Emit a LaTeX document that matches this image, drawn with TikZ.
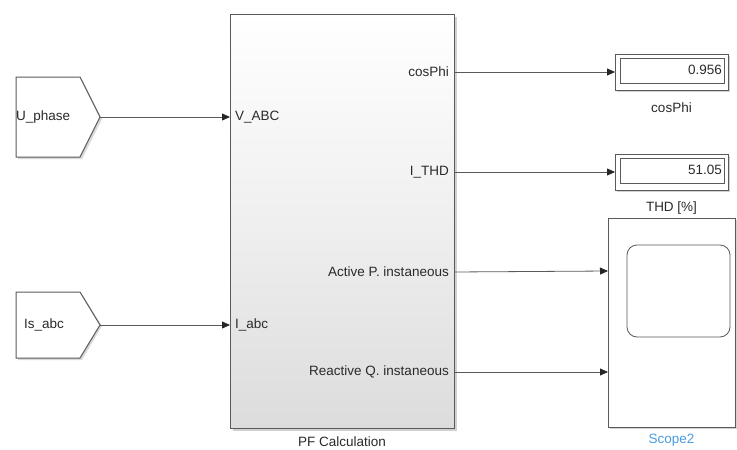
\documentclass[tikz,border=0pt]{standalone}
\usepackage{fontspec}
\setmainfont{Liberation Sans}
\usetikzlibrary{arrows.meta,calc}
\definecolor{edge}{HTML}{5A5A5A}
\definecolor{txt}{HTML}{2A2A2A}
\definecolor{bluelab}{HTML}{4A9BE0}
\definecolor{grad}{HTML}{DCDCDC}
\tikzset{
  sig/.style={draw=edge, line width=0.8pt, -{Triangle[length=8pt,width=7pt,color=black!85]}},
  blk/.style={draw=edge, line width=1pt},
  lab/.style={font=\fontsize{13.5}{16}\selectfont, text=txt, inner sep=0pt},
}
\begin{document}
\begin{tikzpicture}[x=1pt,y=-1pt]
\useasboundingbox (0,0) rectangle (737,450);
% ---- From blocks (pentagon tags)
\fill[black!15] (18,79) -- (82,79) -- (102,119) -- (82,159) -- (18,159) -- cycle;
\draw[blk, fill=white] (16,77) -- (80,77) -- (100,117) -- (80,157) -- (16,157) -- cycle;
\node[lab, anchor=west] (uph) at (16,117) {U\_phase};
\coordinate (uphtip) at (100,117);
\fill[black!15] (18,294) -- (82,294) -- (102,326) -- (82,360) -- (18,360) -- cycle;
\draw[blk, fill=white] (16,292) -- (80,292) -- (100,325) -- (80,358) -- (16,358) -- cycle;
\node[lab, anchor=west] (isabc) at (24,325) {Is\_abc};
\coordinate (isabctip) at (100,325);
% ---- PF Calculation block
\fill[black!18] (233,17) rectangle (457,431);
\shade[top color=white, bottom color=grad, middle color=white!55!grad] (230,14) rectangle (454,428);
\draw[blk] (230,14) rectangle (454,428);
\node[lab] (pflab) at (342,442) {PF Calculation};
\coordinate (pfin1) at (230,117);
\coordinate (pfin2) at (230,325);
\coordinate (pfo1) at (454,72);
\coordinate (pfo2) at (454,172);
\coordinate (pfo3) at (454,272);
\coordinate (pfo4) at (454,372);
\node[lab, anchor=west] (vabc) at (235,117) {V\_ABC};
\node[lab, anchor=west] (iabc) at (235,325) {I\_abc};
\node[lab, anchor=east] (lcos) at (449,72) {cosPhi};
\node[lab, anchor=east] (lthd) at (449,172) {I\_THD};
\node[lab, anchor=east] (lact) at (449,272) {Active P. instaneous};
\node[lab, anchor=east] (lrea) at (449,372) {Reactive Q. instaneous};
% ---- Displays
\fill[black!18] (617,56) rectangle (730,92);
\draw[blk, fill=white] (615,54) rectangle (728,90);
\draw[edge, line width=0.6pt] (620,58) rectangle (724,83);
\node[lab, anchor=east] (v1) at (722,70) {0.956};
\node[lab] (d1lab) at (671.5,108) {cosPhi};
\coordinate (d1in) at (615,72);
\fill[black!18] (617,156) rectangle (730,192);
\draw[blk, fill=white] (615,154) rectangle (728,190);
\draw[edge, line width=0.6pt] (620,158) rectangle (724,183);
\node[lab, anchor=east] (v2) at (722,170) {51.05};
\node[lab] (d2lab) at (671.5,208) {THD [\%]};
\coordinate (d2in) at (615,172);
% ---- Scope
\fill[black!18] (610,220) rectangle (737,429);
\draw[blk, fill=white] (608,218) rectangle (735,427);
\draw[edge, line width=0.8pt, rounded corners=10pt] (627,245) rectangle (730,337);
\node[lab, text=bluelab] (sclab) at (671.5,440) {Scope2};
\coordinate (sc1) at (608,271);
\coordinate (sc2) at (608,372);
% ---- Signals
\draw[sig] (uphtip) -- (pfin1);
\draw[sig] (isabctip) -- (pfin2);
\draw[sig] (pfo1) -- (d1in);
\draw[sig] (pfo2) -- (d2in);
\draw[sig] (pfo3) -- (sc1);
\draw[sig] (pfo4) -- (sc2);
\end{tikzpicture}
\end{document}
